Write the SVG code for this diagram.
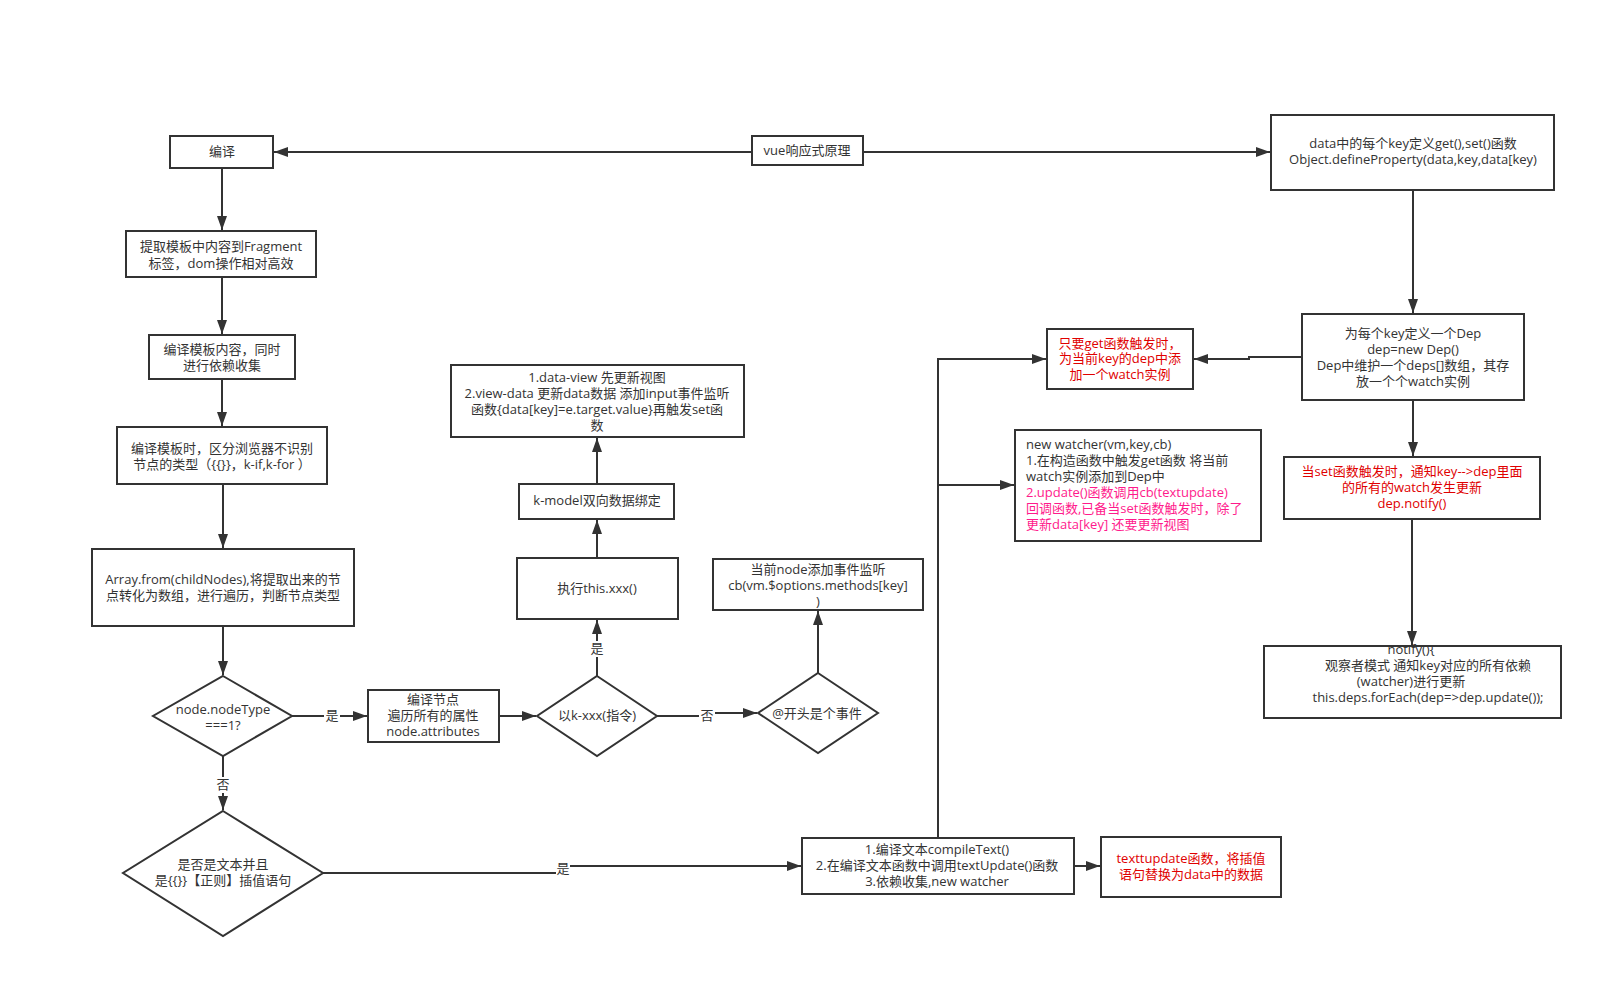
<svg xmlns="http://www.w3.org/2000/svg" width="1621" height="996" viewBox="0 0 1621 996">
<defs>
<marker id="arr" markerUnits="userSpaceOnUse" markerWidth="15" markerHeight="11" refX="14" refY="5" orient="auto">
<path d="M0,0 L14,5 L0,10 z" fill="#333"/>
</marker>
<style>
.box{fill:#fff;stroke:#333;stroke-width:2}
.t{font-family:"Open Sans","Noto Sans CJK SC",sans-serif;font-size:13px;fill:#333;text-anchor:middle;dominant-baseline:central;transform:translateY(-1.5px)}
.l{text-anchor:start}
.red{fill:#e00000}
.pink{fill:#ff1a8c}
.c{fill:none;stroke:#333;stroke-width:2}
.lb{fill:#fff}
</style>
</defs>
<rect width="1621" height="996" fill="#fff"/>

<g id="connectors">
<path class="c" d="M752,152 H274" marker-end="url(#arr)"/>
<path class="c" d="M863,152 H1270" marker-end="url(#arr)"/>
<path class="c" d="M222,168 V230" marker-end="url(#arr)"/>
<path class="c" d="M222,277 V334" marker-end="url(#arr)"/>
<path class="c" d="M222,379 V426" marker-end="url(#arr)"/>
<path class="c" d="M223,484 V548" marker-end="url(#arr)"/>
<path class="c" d="M223,626 V675" marker-end="url(#arr)"/>
<path class="c" d="M292,716 H367" marker-end="url(#arr)"/>
<path class="c" d="M223,756 V810" marker-end="url(#arr)"/>
<path class="c" d="M323,873 H563 V866 H801" marker-end="url(#arr)"/>
<path class="c" d="M499,716 H536" marker-end="url(#arr)"/>
<path class="c" d="M597,676 V620" marker-end="url(#arr)"/>
<path class="c" d="M597,558 V520" marker-end="url(#arr)"/>
<path class="c" d="M597,484 V438" marker-end="url(#arr)"/>
<path class="c" d="M657,716 H707 V713 H757" marker-end="url(#arr)"/>
<path class="c" d="M818,673 V611" marker-end="url(#arr)"/>
<path class="c" d="M1413,190 V313" marker-end="url(#arr)"/>
<path class="c" d="M1302,357 H1249 V359 H1194" marker-end="url(#arr)"/>
<path class="c" d="M938,838 V359 H1046" marker-end="url(#arr)"/>
<path class="c" d="M938,485 H1014" marker-end="url(#arr)"/>
<path class="c" d="M1413,400 V456" marker-end="url(#arr)"/>
<path class="c" d="M1412,519 V645" marker-end="url(#arr)"/>
<path class="c" d="M1074,866 H1100" marker-end="url(#arr)"/>
<rect class="lb" x="324" y="708" width="16" height="16"/>
<text class="t" x="332" y="716">是</text>
<rect class="lb" x="215" y="777" width="16" height="16"/>
<text class="t" x="223" y="785">否</text>
<rect class="lb" x="556" y="861" width="14" height="16"/>
<text class="t" x="563" y="869">是</text>
<rect class="lb" x="589" y="641" width="16" height="16"/>
<text class="t" x="597" y="649">是</text>
<rect class="lb" x="699" y="708" width="16" height="16"/>
<text class="t" x="707" y="716">否</text>
</g>

<g id="n-compile">
<rect class="box" x="170" y="136" width="103" height="32"/>
<text class="t" x="222" y="152">编译</text>
</g>
<g id="n-vue">
<rect class="box" x="752" y="136" width="111" height="29"/>
<text class="t" x="807" y="151">vue响应式原理</text>
</g>
<g id="n-define">
<rect class="box" x="1271" y="115" width="283" height="75"/>
<text class="t" x="1413" y="144">data中的每个key定义get(),set()函数</text>
<text class="t" x="1413" y="160.5">Object.defineProperty(data,key,data[key)</text>
</g>
<g id="n-fragment">
<rect class="box" x="126" y="231" width="190" height="46"/>
<text class="t" x="221" y="247.5">提取模板中内容到Fragment</text>
<text class="t" x="221" y="264">标签，dom操作相对高效</text>
</g>
<g id="n-compile-content">
<rect class="box" x="149" y="335" width="146" height="44"/>
<text class="t" x="222" y="350">编译模板内容，同时</text>
<text class="t" x="222" y="366.5">进行依赖收集</text>
</g>
<g id="n-compile-template">
<rect class="box" x="117" y="427" width="210" height="57"/>
<text class="t" x="222" y="449">编译模板时，区分浏览器不识别</text>
<text class="t" x="222" y="465">节点的类型（{{}}，k-if,k-for ）</text>
</g>
<g id="n-array">
<rect class="box" x="92" y="549" width="262" height="77"/>
<text class="t" x="223" y="580.5">Array.from(childNodes),将提取出来的节</text>
<text class="t" x="223" y="596.5">点转化为数组，进行遍历，判断节点类型</text>
</g>
<g id="n-nodetype">
<polygon class="box" points="223,676 292,716 223,756 153,716"/>
<text class="t" x="223" y="710">node.nodeType</text>
<text class="t" x="223" y="726">===1?</text>
</g>
<g id="n-istext">
<polygon class="box" points="223,811 323,873 223,936 123,873"/>
<text class="t" x="223" y="865.5">是否是文本并且</text>
<text class="t" x="223" y="881.5">是{{}}【正则】插值语句</text>
</g>
<g id="n-compile-node">
<rect class="box" x="368" y="690" width="131" height="52"/>
<text class="t" x="433" y="700.5">编译节点</text>
<text class="t" x="433" y="716.5">遍历所有的属性</text>
<text class="t" x="433" y="732.5">node.attributes</text>
</g>
<g id="n-dataview">
<rect class="box" x="451" y="365" width="293" height="72"/>
<text class="t" x="597" y="378.5">1.data-view 先更新视图</text>
<text class="t" x="597" y="394.5">2.view-data 更新data数据 添加input事件监听</text>
<text class="t" x="597" y="410.5">函数{data[key]=e.target.value}再触发set函</text>
<text class="t" x="597" y="426.5">数</text>
</g>
<g id="n-kmodel">
<rect class="box" x="519" y="484" width="155" height="35"/>
<text class="t" x="597" y="501.5">k-model双向数据绑定</text>
</g>
<g id="n-exec">
<rect class="box" x="517" y="558" width="161" height="61"/>
<text class="t" x="597" y="589">执行this.xxx()</text>
</g>
<g id="n-directive">
<polygon class="box" points="597,676 657,716 597,756 537,716"/>
<text class="t" x="597" y="716.5">以k-xxx(指令)</text>
</g>
<g id="n-event">
<polygon class="box" points="818,673 878,713 818,753 758,713"/>
<text class="t" x="817" y="714">@开头是个事件</text>
</g>
<g id="n-listener">
<rect class="box" x="713" y="559" width="210" height="51"/>
<text class="t" x="818" y="570">当前node添加事件监听</text>
<text class="t" x="818" y="586">cb(vm.$options.methods[key]</text>
<text class="t" x="818" y="602">)</text>
</g>
<g id="n-get">
<rect class="box" x="1047" y="329" width="146" height="60"/>
<text class="t red" x="1120" y="344">只要get函数触发时，</text>
<text class="t red" x="1120" y="359.5">为当前key的dep中添</text>
<text class="t red" x="1120" y="375">加一个watch实例</text>
</g>
<g id="n-dep">
<rect class="box" x="1302" y="314" width="222" height="86"/>
<text class="t" x="1413" y="334">为每个key定义一个Dep</text>
<text class="t" x="1413" y="350">dep=new Dep()</text>
<text class="t" x="1413" y="366">Dep中维护一个deps[]数组，其存</text>
<text class="t" x="1413" y="382">放一个个watch实例</text>
</g>
<g id="n-watcher">
<rect class="box" x="1015" y="430" width="246" height="111"/>
<text class="t l" x="1026" y="445.5">new watcher(vm,key,cb)</text>
<text class="t l" x="1026" y="461.5">1.在构造函数中触发get函数 将当前</text>
<text class="t l" x="1026" y="477.5">watch实例添加到Dep中</text>
<text class="t l pink" x="1026" y="493.5">2.update()函数调用cb(textupdate)</text>
<text class="t l pink" x="1026" y="509.5">回调函数,已备当set函数触发时，除了</text>
<text class="t l pink" x="1026" y="525.5">更新data[key] 还要更新视图</text>
</g>
<g id="n-set">
<rect class="box" x="1284" y="457" width="256" height="62"/>
<text class="t red" x="1412" y="472.5">当set函数触发时，通知key--&gt;dep里面</text>
<text class="t red" x="1412" y="488.5">的所有的watch发生更新</text>
<text class="t red" x="1412" y="504.5">dep.notify()</text>
</g>
<g id="n-notify">
<rect class="box" x="1264" y="646" width="297" height="72"/>
<text class="t" x="1411" y="650.5">notify(){</text>
<text class="t" x="1428" y="666.5">观察者模式 通知key对应的所有依赖</text>
<text class="t" x="1411" y="682.5">(watcher)进行更新</text>
<text class="t" x="1428" y="698.5">this.deps.forEach(dep=&gt;dep.update());</text>
</g>
<g id="n-compiletext">
<rect class="box" x="802" y="838" width="272" height="56"/>
<text class="t" x="937" y="850.5">1.编译文本compileText()</text>
<text class="t" x="937" y="866.5">2.在编译文本函数中调用textUpdate()函数</text>
<text class="t" x="937" y="882.5">3.依赖收集,new watcher</text>
</g>
<g id="n-textupdate">
<rect class="box" x="1101" y="837" width="180" height="60"/>
<text class="t red" x="1191" y="859">texttupdate函数，将插值</text>
<text class="t red" x="1191" y="875">语句替换为data中的数据</text>
</g>
</svg>
